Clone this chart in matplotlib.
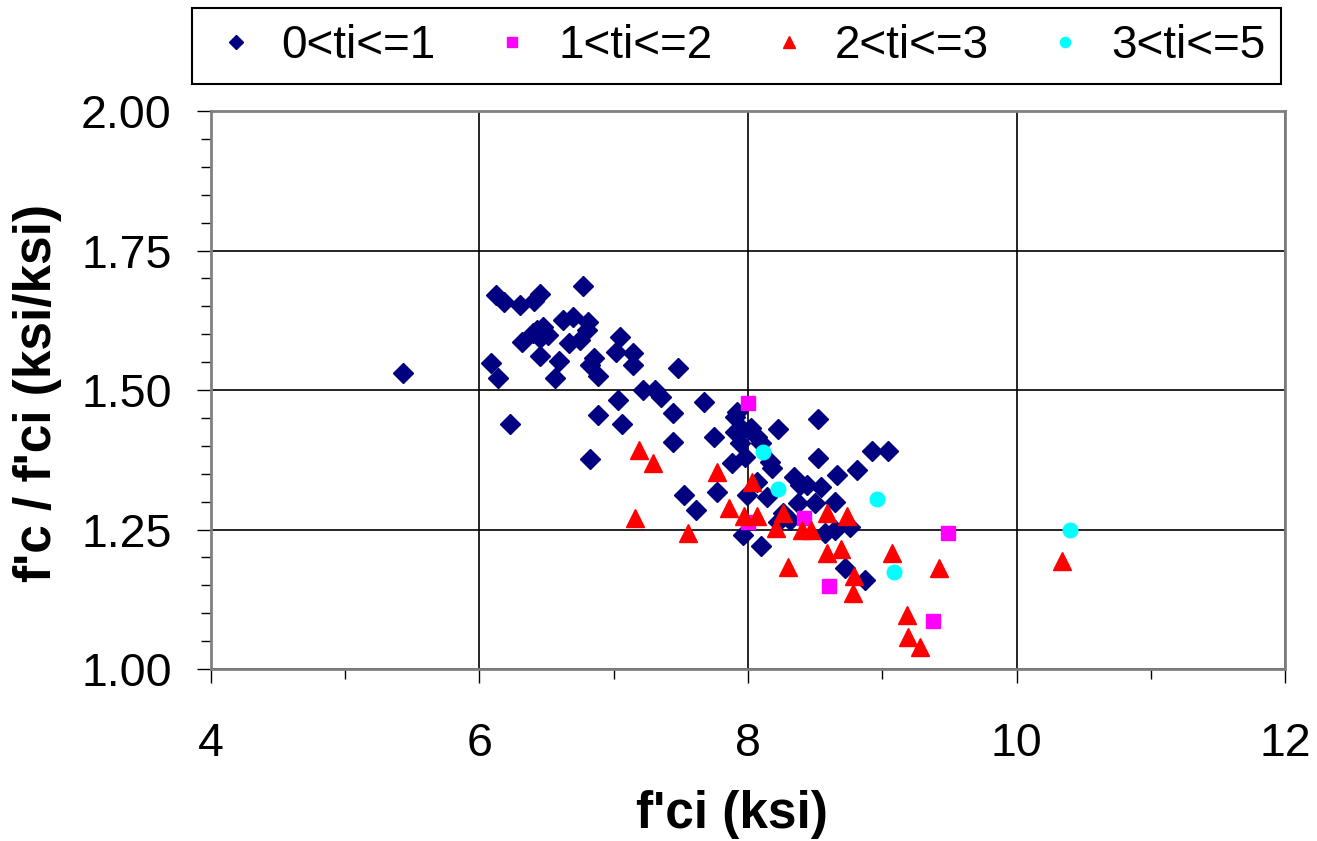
import matplotlib
matplotlib.use("Agg")
import matplotlib.pyplot as plt
from matplotlib.ticker import MultipleLocator

plt.rcParams['font.family'] = ['Liberation Sans', 'DejaVu Sans']

# 0<ti<=1 (dark blue diamonds)
x_g1 = [5.43, 6.12, 6.18, 6.30, 6.41, 6.45, 6.77, 6.43, 6.47, 6.51, 6.45, 6.40,
        6.62, 6.70, 6.81, 6.80, 6.67, 6.75, 6.32, 6.45, 6.59, 6.85, 6.82, 6.88,
        7.05, 7.02, 7.14, 7.14, 6.09, 6.14, 6.56, 7.22, 7.31, 7.35, 7.03, 7.48,
        6.88, 7.44, 7.67, 7.06, 6.23, 7.44, 7.75, 6.82, 7.52, 7.77, 7.61,
        7.92, 7.90, 7.90, 7.96, 8.02, 8.07, 7.94, 8.10, 8.22, 8.52, 7.88, 7.98,
        8.16, 8.18, 8.52, 8.66, 8.81, 8.34, 8.39, 8.44, 8.54, 8.07, 7.99, 8.14,
        8.37, 8.50, 8.65, 8.26, 8.31, 8.22, 8.57, 8.65, 8.76, 7.96, 8.10, 8.72,
        8.87, 8.92, 9.04]
y_g1 = [1.530, 1.670, 1.658, 1.652, 1.659, 1.672, 1.686, 1.608, 1.613, 1.599, 1.593, 1.602,
        1.625, 1.631, 1.622, 1.608, 1.584, 1.590, 1.586, 1.561, 1.552, 1.557, 1.545, 1.525,
        1.595, 1.568, 1.566, 1.545, 1.548, 1.522, 1.522, 1.500, 1.500, 1.487, 1.482, 1.539,
        1.455, 1.459, 1.478, 1.439, 1.439, 1.407, 1.416, 1.376, 1.312, 1.317, 1.285,
        1.461, 1.452, 1.425, 1.428, 1.432, 1.416, 1.405, 1.405, 1.430, 1.448, 1.369, 1.380,
        1.371, 1.360, 1.378, 1.348, 1.357, 1.344, 1.330, 1.330, 1.326, 1.335, 1.312, 1.308,
        1.297, 1.297, 1.299, 1.280, 1.267, 1.263, 1.244, 1.249, 1.254, 1.240, 1.220, 1.181,
        1.159, 1.391, 1.391]

# 1<ti<=2 (magenta squares)
x_g2 = [8.00, 8.42, 8.00, 9.49, 8.60, 9.38]
y_g2 = [1.477, 1.271, 1.263, 1.244, 1.149, 1.086]

# 2<ti<=3 (red triangles)
x_g3 = [7.19, 7.29, 7.77, 8.03, 7.16, 7.55, 7.86, 7.97, 8.07, 8.26, 8.21, 8.40,
        8.47, 8.59, 8.74, 8.30, 8.59, 8.69, 8.79, 8.78, 9.07, 9.42, 10.34, 9.18,
        9.19, 9.28]
y_g3 = [1.392, 1.369, 1.353, 1.335, 1.271, 1.244, 1.289, 1.274, 1.274, 1.280, 1.253, 1.249,
        1.249, 1.280, 1.274, 1.183, 1.208, 1.215, 1.167, 1.136, 1.208, 1.181, 1.194, 1.097,
        1.057, 1.039]

# 3<ti<=5 (cyan circles)
x_g4 = [8.11, 8.22, 8.96, 9.09, 10.40]
y_g4 = [1.389, 1.323, 1.305, 1.174, 1.249]

labels = ['0<ti<=1', '1<ti<=2', '2<ti<=3', '3<ti<=5']

fig = plt.figure(figsize=(13.17, 8.41), dpi=100)
ax = fig.add_axes([0.160, 0.2045, 0.816, 0.6635])

ax.plot(x_g1, y_g1, 'D', color='#000080', markersize=10.5, linestyle='none', label=labels[0])
ax.plot(x_g2, y_g2, 's', color='#FF00FF', markersize=10, linestyle='none', label=labels[1])
ax.plot(x_g3, y_g3, '^', color='#FF0000', markersize=13, linestyle='none', label=labels[2])
ax.plot(x_g4, y_g4, 'o', color='#00FFFF', markersize=10.5, linestyle='none', label=labels[3])

ax.set_xlim(4, 12)
ax.set_ylim(1.0, 2.0)
ax.xaxis.set_major_locator(MultipleLocator(2))
ax.xaxis.set_minor_locator(MultipleLocator(1))
ax.yaxis.set_major_locator(MultipleLocator(0.25))
ax.yaxis.set_minor_locator(MultipleLocator(0.05))
ax.set_yticklabels(['%.2f' % v for v in ax.get_yticks()])
ax.grid(True, which='major', color='black', linewidth=1.2)
ax.set_axisbelow(True)

for s in ax.spines.values():
    s.set_color('#808080')
    s.set_linewidth(2)

ax.tick_params(which='major', direction='out', length=10, width=1, labelsize=33.5, pad=18)
ax.tick_params(which='minor', direction='out', length=7, width=1)
ax.tick_params(axis='x', pad=28)

ax.set_xlabel("f'ci (ksi)", fontsize=37, fontweight='bold')
ax.xaxis.set_label_coords(0.485, -0.217)
ax.set_ylabel("f'c / f'ci (ksi/ksi)", fontsize=37, fontweight='bold')
ax.yaxis.set_label_coords(-0.138, 0.495)

leg = fig.legend(loc='upper left', bbox_to_anchor=(0.146, 0.9905, 0.827, 0.0),
                 mode='expand', borderaxespad=0, ncol=4, fontsize=33, markerscale=0.7,
                 handlelength=1.2, handletextpad=0.4, borderpad=0.35,
                 fancybox=False, framealpha=1, edgecolor='black')
leg.get_frame().set_linewidth(1.5)

fig.savefig('out.png', dpi=100)
